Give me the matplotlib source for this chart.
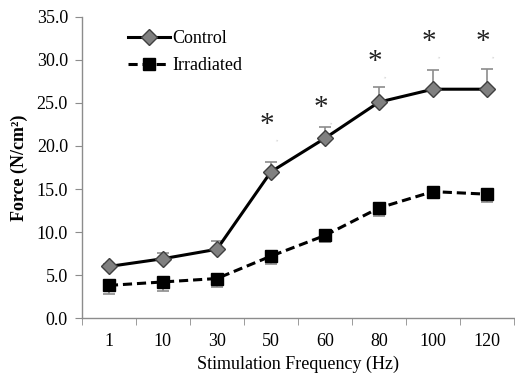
import matplotlib
matplotlib.use("Agg")
import matplotlib.pyplot as plt
import numpy as np

categories = ["1", "10", "30", "50", "60", "80", "100", "120"]
control = [6.0, 6.9, 8.0, 17.0, 20.9, 25.1, 26.6, 26.6]
control_err = [0.3, 0.7, 1.0, 1.1, 1.3, 1.8, 2.2, 2.3]
irradiated = [3.8, 4.2, 4.6, 7.2, 9.6, 12.8, 14.7, 14.4]
irradiated_err = [1.0, 1.0, 1.0, 0.9, 0.8, 0.9, 0.8, 0.9]
star_heights = [22.4, 24.4, 29.8, 32.1, 32.1]
star_idx = [3, 4, 5, 6, 7]

plt.rcParams['font.family'] = ['Liberation Serif', 'DejaVu Serif']

fig = plt.figure(figsize=(5.15, 3.76), dpi=100)
ax = fig.add_axes([0.159, 0.154, 0.839, 0.801])
x = np.arange(len(categories))

ax.errorbar(x, control, yerr=[np.zeros(len(x)), control_err], fmt='none',
            ecolor='#8c8c8c', elinewidth=1.2, capsize=4, capthick=1.2, zorder=2)
ax.errorbar(x, irradiated, yerr=[irradiated_err, np.zeros(len(x))], fmt='none',
            ecolor='#8c8c8c', elinewidth=1.2, capsize=4, capthick=1.2, zorder=2)
ax.plot(x, control, '-', color='black', lw=2.2, marker='D', markersize=8,
        markerfacecolor='#808080', markeredgecolor='#404040', markeredgewidth=1,
        label='Control', zorder=3)
ax.plot(x, irradiated, '--', color='black', lw=2.2, dashes=(3, 1.6), marker='s',
        markersize=8, markerfacecolor='black', markeredgecolor='black',
        label='Irradiated', zorder=3)

for i, h in zip(star_idx, star_heights):
    ax.text(i - 0.07, h, '*', ha='center', va='center', fontsize=21, color='#222222')
    ax.text(i + 0.12, h - 1.6, ',', ha='center', va='center', fontsize=6,
            color='#bbbbbb', rotation=-30)

ax.set_xlim(-0.5, len(categories) - 0.5)
ax.set_ylim(0, 35)
ax.set_yticks(np.arange(0, 35.1, 5))
ax.set_yticklabels([f"{v:.1f}" for v in np.arange(0, 35.1, 5)])
ax.set_xticks(x)
ax.set_xticklabels(categories)
ax.set_xticks(np.arange(-0.5, len(categories)), minor=True)
ax.tick_params(axis='x', which='major', length=0, pad=11, labelsize=13)
ax.tick_params(axis='x', which='minor', length=5, color='#8c8c8c', direction='out')
ax.tick_params(axis='y', length=5, color='#8c8c8c', labelsize=13, pad=5)

for s in ['top', 'right']:
    ax.spines[s].set_visible(False)
for s in ['left', 'bottom']:
    ax.spines[s].set_color('#8c8c8c')
    ax.spines[s].set_linewidth(1)

ax.set_xlabel('Stimulation Frequency (Hz)', fontsize=13, labelpad=4)
ax.set_ylabel('Force (N/cm²)', fontsize=13, fontweight='bold', labelpad=6)

leg = ax.legend(loc='upper left', bbox_to_anchor=(0.07, 1.01), frameon=False,
                fontsize=13, handlelength=2.3, handletextpad=0.15, labelspacing=0.55)

fig.savefig('out.png', dpi=100)
